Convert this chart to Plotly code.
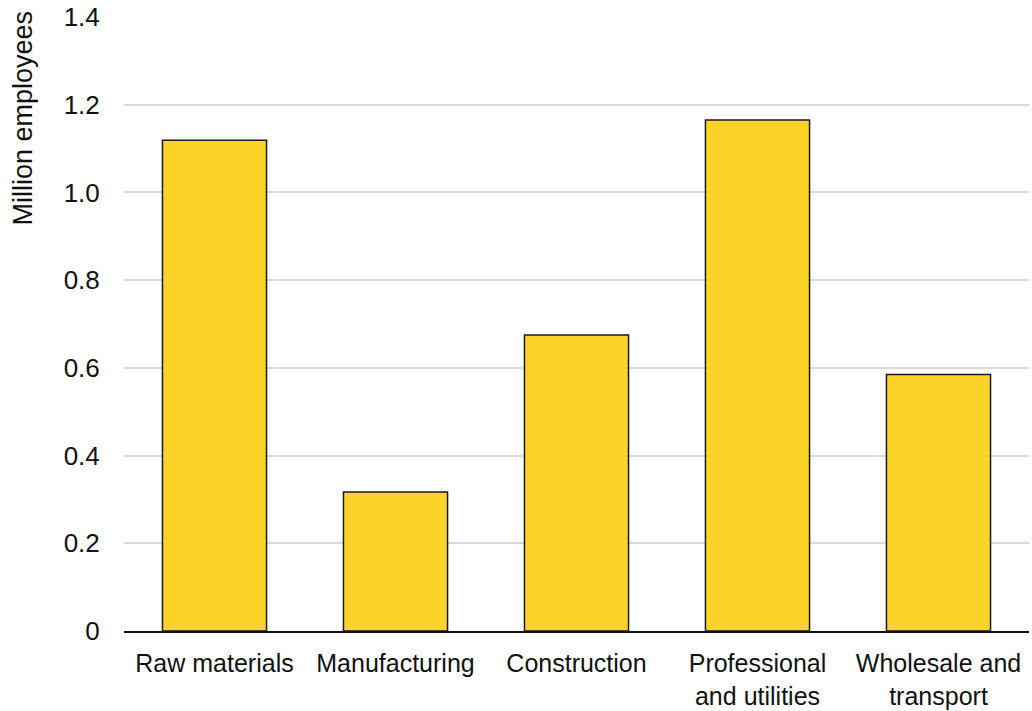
import plotly.graph_objects as go

categories = ["Raw materials", "Manufacturing", "Construction",
              "Professional<br>and utilities", "Wholesale and<br>transport"]
values = [1.119, 0.317, 0.675, 1.165, 0.585]
tick_vals = [0, 0.2, 0.4, 0.6, 0.8, 1.0, 1.2, 1.4]
tick_text = ["0", "0.2", "0.4", "0.6", "0.8", "1.0", "1.2", "1.4"]

FONT = "Liberation Sans, Arial, sans-serif"

fig = go.Figure(go.Bar(
    x=categories, y=values,
    marker=dict(color="#FCD327", line=dict(color="#1a1a1a", width=1.5)),
    width=0.575,
))

fig.update_layout(
    width=1032, height=711,
    margin=dict(l=124, r=3, t=17, b=80, autoexpand=False),
    plot_bgcolor="white", paper_bgcolor="white",
    font=dict(family=FONT, size=26, color="#111111"),
    showlegend=False,
    bargap=0.425,
)
fig.update_xaxes(
    showline=True, linecolor="#111111", linewidth=2,
    ticks="outside", ticklen=9, tickcolor="rgba(0,0,0,0)",
    tickfont=dict(size=25), automargin=False,
)
fig.update_yaxes(
    range=[0, 1.4], tickvals=tick_vals, ticktext=tick_text,
    showgrid=True, gridcolor="#D9D9D9", gridwidth=2,
    zeroline=False, showline=False,
    ticks="outside", ticklen=18, tickcolor="rgba(0,0,0,0)",
    tickfont=dict(size=26), automargin=False,
)
fig.add_annotation(
    text="Million employees", textangle=-90,
    xref="paper", yref="paper", x=0, y=1 + 8 / 614,
    xshift=-102, xanchor="center", yanchor="top",
    showarrow=False, font=dict(size=27),
)

fig.write_html("out.html")
